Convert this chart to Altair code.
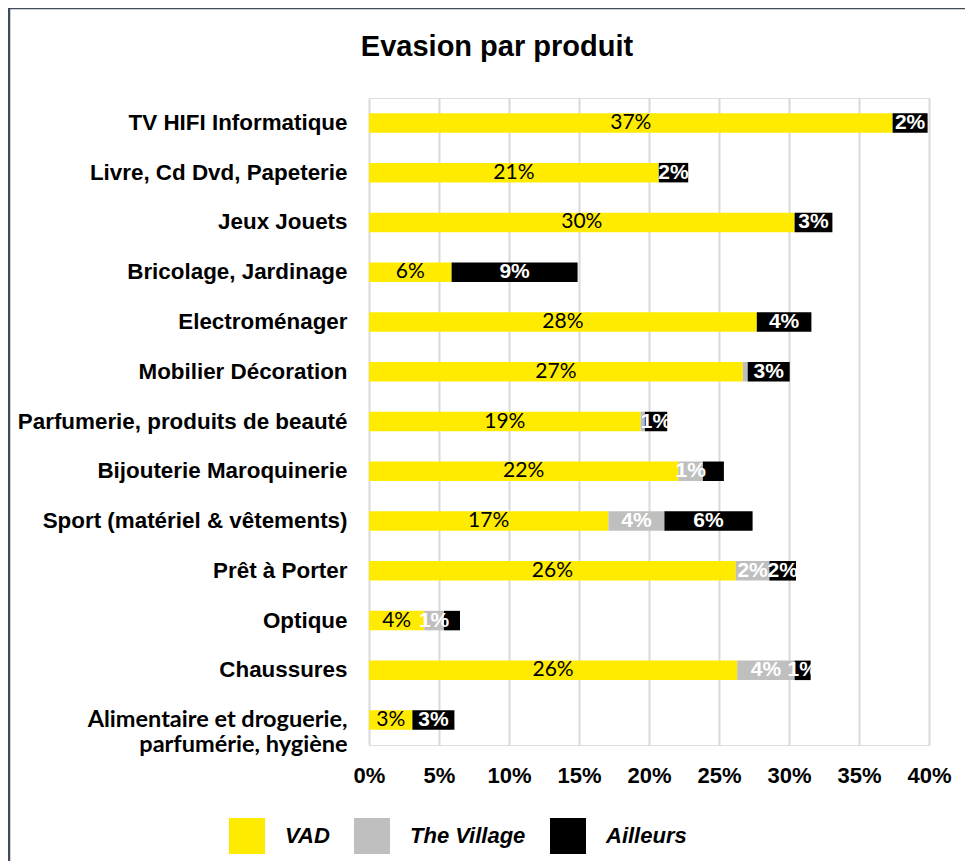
import altair as alt
import pandas as pd

categories = [
    "TV HIFI Informatique",
    "Livre, Cd Dvd, Papeterie",
    "Jeux Jouets",
    "Bricolage, Jardinage",
    "Electroménager",
    "Mobilier Décoration",
    "Parfumerie, produits de beauté",
    "Bijouterie Maroquinerie",
    "Sport (matériel & vêtements)",
    "Prêt à Porter",
    "Optique",
    "Chaussures",
    "Alimentaire et droguerie,|parfumérie, hygiène",
]
series = ["VAD", "The Village", "Ailleurs"]
colors = ["#ffeb00", "#bfbfbf", "#000000"]

vad = [37.4, 20.7, 30.4, 5.9, 27.7, 26.7, 19.4, 22.1, 17.1, 26.2, 3.95, 26.3, 3.1]
village = [0, 0, 0, 0, 0, 0.35, 0.3, 1.75, 4.0, 2.4, 1.4, 4.1, 0]
ailleurs = [2.5, 2.1, 2.7, 9.0, 3.9, 3.0, 1.6, 1.5, 6.3, 1.9, 1.15, 1.15, 3.0]

vad_labels = ["37%", "21%", "30%", "6%", "28%", "27%", "19%", "22%", "17%", "26%", "4%", "26%", "3%"]
village_labels = ["", "", "", "", "", "", "", "1%", "4%", "2%", "1%", "4%", ""]
ailleurs_labels = ["2%", "2%", "3%", "9%", "4%", "3%", "1%", "", "6%", "2%", "", "1%", "3%"]

tick_values = [0, 5, 10, 15, 20, 25, 30, 35, 40]

rows = []
for s_i, (name, vals, labs) in enumerate(
    zip(series, [vad, village, ailleurs], [vad_labels, village_labels, ailleurs_labels])
):
    for c, v, l in zip(categories, vals, labs):
        rows.append({"cat": c, "series": name, "order": s_i, "value": v, "label": l})
df = pd.DataFrame(rows)

W, H = 560, 647

base = alt.Chart(df).transform_stack(
    stack="value", groupby=["cat"], as_=["x0", "x1"], sort=[alt.SortField("order")]
).transform_calculate(mid="(datum.x0 + datum.x1) / 2")

y_enc = alt.Y(
    "cat:N",
    sort=categories,
    scale=alt.Scale(paddingInner=0.61, paddingOuter=0.305),
    axis=alt.Axis(
        title=None,
        domain=False,
        ticks=False,
        grid=False,
        labelPadding=22,
        labelFontSize={
            "condition": {"test": "indexof(datum.value, 'Alimentaire') >= 0", "value": 23.5},
            "value": 22.4,
        },
        labelFont={
            "condition": {"test": "indexof(datum.value, 'Alimentaire') >= 0", "value": "Lato"},
            "value": "Liberation Sans",
        },
        labelFontWeight="bold",
        labelColor="black",
        labelLimit=500,
        labelLineHeight=25,
        labelExpr="split(datum.label, '|')",
    ),
)

x_scale = alt.Scale(domain=[0, 40], nice=False, zero=True)

bars = base.mark_bar(size=19.5).encode(
    x=alt.X(
        "x0:Q",
        scale=x_scale,
        axis=alt.Axis(
            values=tick_values,
            labelExpr="datum.value + '%'",
            title=None,
            domain=False,
            ticks=False,
            grid=True,
            gridColor="#d9d9d9",
            gridWidth=2,
            labelFontSize=22,
            labelFont="Liberation Sans",
            labelFontWeight="bold",
            labelColor="black",
            labelPadding=20,
            labelFlush=False,
            labelOverlap=False,
        ),
    ),
    x2="x1:Q",
    y=y_enc,
    color=alt.Color(
        "series:N",
        scale=alt.Scale(domain=series, range=colors),
        legend=alt.Legend(
            title=None,
            orient="none",
            legendX=-140,
            legendY=720,
            direction="horizontal",
            symbolType="square",
            symbolSize=1296,
            symbolStrokeWidth=0,
            symbolOpacity=1,
            labelFontSize=22,
            labelFont="Liberation Sans",
            labelFontWeight="bold",
            labelFontStyle="italic",
            labelColor="black",
            labelOffset=20,
            columnPadding=24,
            padding=0,
        ),
    ),
)

vad_text = base.transform_filter(
    "datum.series == 'VAD' && datum.label != ''"
).mark_text(font="Lato", fontSize=21, color="black", baseline="middle").encode(
    x=alt.X("mid:Q", scale=x_scale), y=alt.Y("cat:N", sort=categories), text="label:N"
)

other_text = base.transform_filter(
    "datum.series != 'VAD' && datum.label != ''"
).mark_text(
    font="Liberation Sans", fontSize=21, fontWeight="bold", color="white", baseline="middle"
).encode(
    x=alt.X("mid:Q", scale=x_scale), y=alt.Y("cat:N", sort=categories), text="label:N"
)

# outer chart frame (decoration, as in the reference): left and top edges only
frame_df = pd.DataFrame({"f": [0]})
frame_left = alt.Chart(frame_df).mark_rule(color="#3f4b5b", strokeWidth=2.5).encode(
    x=alt.value(-360), y=alt.value(-90), y2=alt.value(H + 140)
)
frame_top = alt.Chart(frame_df).mark_rule(color="#3f4b5b", strokeWidth=2.5).encode(
    x=alt.value(-361.25), x2=alt.value(W + 80), y=alt.value(-90)
)

chart = alt.layer(bars, vad_text, other_text, frame_left, frame_top).properties(
    width=W,
    height=H,
    title=alt.TitleParams(
        "Evasion par produit",
        font="Liberation Sans",
        fontSize=29,
        fontWeight="bold",
        color="black",
        anchor="middle",
        dx=-152,
        offset=-55,
    ),
    autosize=alt.AutoSizeParams(type="none"),
    padding={"left": 361, "top": 90, "right": 36, "bottom": 120},
).configure_view(strokeWidth=0, stroke="transparent").configure(background="white")

chart.save("out.html", embed_options={"renderer": "svg", "actions": False})
